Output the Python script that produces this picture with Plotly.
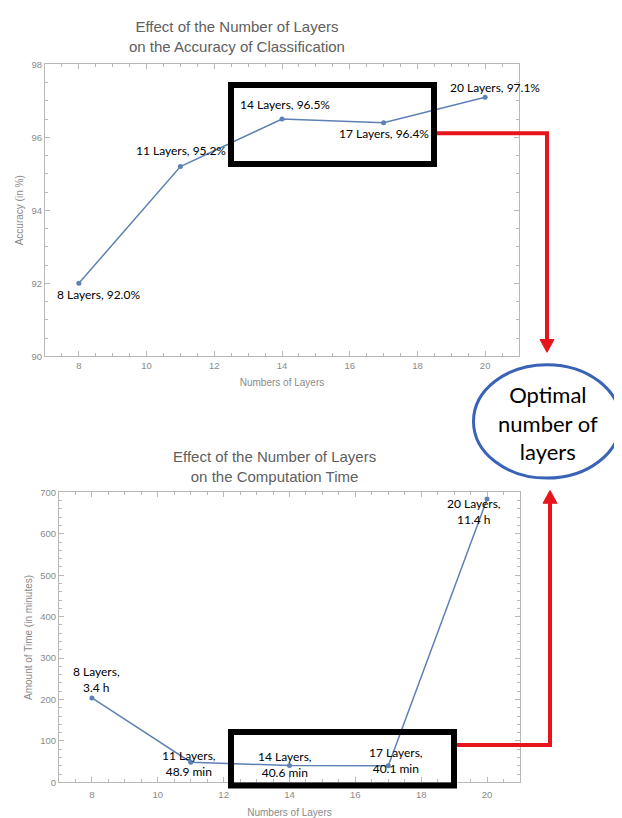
import plotly.graph_objects as go

# page has an 8px body margin; figure fills the remaining window area
OFF = 8
W, H = 622 - OFF, 818 - OFF

# ---------------- data ----------------
layers = [8, 11, 14, 17, 20]
accuracy = [92.0, 95.2, 96.5, 96.4, 97.1]
acc_labels = ["8 Layers, 92.0%", "11 Layers, 95.2%", "14 Layers, 96.5%",
              "17 Layers, 96.4%", "20 Layers, 97.1%"]
time_min = [204, 48.9, 40.6, 40.1, 684]
time_labels = ["8 Layers,<br>3.4 h", "11 Layers,<br>48.9 min", "14 Layers,<br>40.6 min",
               "17 Layers,<br>40.1 min", "20 Layers,<br>11.4 h"]
title_top = "Effect of the Number of Layers<br>on the Accuracy of Classification"
title_bot = "Effect of the Number of Layers<br>on the Computation Time"
xtitle = "Numbers of Layers"
ytitle_top = "Accuracy (in %)"
ytitle_bot = "Amount of Time (in minutes)"
callout = "Optimal<br>number of<br>layers"

# label offsets (pixels) relative to points
acc_off = [(20, -11), (1, 16), (3, 15), (0, -11), (10, 10)]
time_off = [(5, 18), (-2, -1), (-5, 1), (8, 5), (-13, -12)]

def px(x):
    return (x - OFF) / W

def py(y):
    return 1 - (y - OFF) / H

LINE = "#5E81B5"
GRAY = "#8a8a8a"
FRAME = "#b8b8b8"
RED = "#E8141C"
BLUE = "#3A63B8"

fig = go.Figure()
fig.add_trace(go.Scatter(x=layers, y=accuracy, mode="lines+markers",
                         line=dict(color=LINE, width=1.5),
                         marker=dict(color=LINE, size=5),
                         xaxis="x", yaxis="y", showlegend=False, hoverinfo="skip"))
fig.add_trace(go.Scatter(x=layers, y=time_min, mode="lines+markers",
                         line=dict(color=LINE, width=1.5),
                         marker=dict(color=LINE, size=5),
                         xaxis="x2", yaxis="y2", showlegend=False, hoverinfo="skip"))

axis_common = dict(showline=True, linecolor=FRAME, linewidth=1, mirror="allticks",
                   ticks="inside", ticklen=5, tickcolor=FRAME, tickwidth=1,
                   showgrid=False, zeroline=False,
                   tickfont=dict(family="Liberation Sans", size=9.5, color=GRAY),
                   title_font=dict(family="Liberation Sans", size=10, color=GRAY))

fig.update_layout(
    width=W, height=H, margin=dict(l=0, r=0, t=0, b=0),
    paper_bgcolor="white", plot_bgcolor="white",
    xaxis=dict(domain=[px(45), px(519)], range=[7, 21], dtick=2, anchor="y",
               minor=dict(dtick=0.5, ticks="inside", ticklen=3, tickcolor=FRAME),
               title=dict(text=xtitle, standoff=9), **axis_common),
    yaxis=dict(domain=[py(355), py(59)], range=[90, 98], dtick=2, anchor="x",
               minor=dict(dtick=0.5, ticks="inside", ticklen=3, tickcolor=FRAME),
               title=dict(text=ytitle_top, standoff=6), **axis_common),
    xaxis2=dict(domain=[px(59), px(520)], range=[7, 21], dtick=2, anchor="y2",
                minor=dict(dtick=0.5, ticks="inside", ticklen=3, tickcolor=FRAME),
                ticklabelstandoff=3,
                title=dict(text=xtitle, standoff=11), **axis_common),
    yaxis2=dict(domain=[py(787), py(493)], range=[0, 700], dtick=100, anchor="x2",
                minor=dict(dtick=20, ticks="inside", ticklen=3, tickcolor=FRAME),
                title=dict(text=ytitle_bot, standoff=5), **axis_common),
)

ann = []
# titles
ann.append(dict(text=title_top, xref="paper", yref="paper", x=px(237), y=py(31),
                showarrow=False, xanchor="center", yanchor="middle",
                font=dict(family="Liberation Sans", size=15, color="#606060")))
ann.append(dict(text=title_bot, xref="paper", yref="paper", x=px(274), y=py(467),
                showarrow=False, xanchor="center", yanchor="middle",
                font=dict(family="Liberation Sans", size=15, color="#606060")))
# data labels
for xv, yv, t, (dx, dy) in zip(layers, accuracy, acc_labels, acc_off):
    ann.append(dict(text=t, x=xv, y=yv, xref="x", yref="y", showarrow=False,
                    xshift=dx, yshift=dy, xanchor="center", yanchor="middle",
                    font=dict(family="Lato", size=12, color="black")))
for xv, yv, t, (dx, dy) in zip(layers, time_min, time_labels, time_off):
    ann.append(dict(text=t, x=xv, y=yv, xref="x2", yref="y2", showarrow=False,
                    xshift=dx, yshift=dy, xanchor="center", yanchor="middle",
                    font=dict(family="Lato", size=12, color="black")))
# callout text
ann.append(dict(text=callout, xref="paper", yref="paper", x=px(548), y=py(423),
                showarrow=False, xanchor="center", yanchor="middle",
                font=dict(family="Lato", size=22, color="black")))
fig.update_layout(annotations=ann)

shapes = []
# black boxes
shapes.append(dict(type="rect", xref="paper", yref="paper",
                   x0=px(231), x1=px(434), y0=py(160), y1=py(80),
                   line=dict(color="black", width=6), layer="above"))
shapes.append(dict(type="rect", xref="paper", yref="paper",
                   x0=px(231), x1=px(454), y0=py(790), y1=py(736),
                   line=dict(color="black", width=6), layer="above"))
# red connectors
shapes.append(dict(type="path", xref="paper", yref="paper",
                   path=f"M {px(437)},{py(129)} L {px(547)},{py(129)} L {px(547)},{py(340)}",
                   line=dict(color=RED, width=4)))
shapes.append(dict(type="path", xref="paper", yref="paper",
                   path=f"M {px(540)},{py(338)} L {px(554)},{py(338)} L {px(547)},{py(351)} Z",
                   fillcolor=RED, line=dict(color=RED, width=1)))
shapes.append(dict(type="path", xref="paper", yref="paper",
                   path=f"M {px(457)},{py(749)} L {px(550)},{py(749)} L {px(550)},{py(502)}",
                   line=dict(color=RED, width=4)))
shapes.append(dict(type="path", xref="paper", yref="paper",
                   path=f"M {px(543)},{py(504)} L {px(557)},{py(504)} L {px(550)},{py(491)} Z",
                   fillcolor=RED, line=dict(color=RED, width=1)))
# ellipse
shapes.append(dict(type="circle", xref="paper", yref="paper",
                   x0=px(473.5), x1=px(620.5), y0=py(478.5), y1=py(363.5),
                   line=dict(color=BLUE, width=3)))
fig.update_layout(shapes=shapes)

fig.write_html("out.html")
